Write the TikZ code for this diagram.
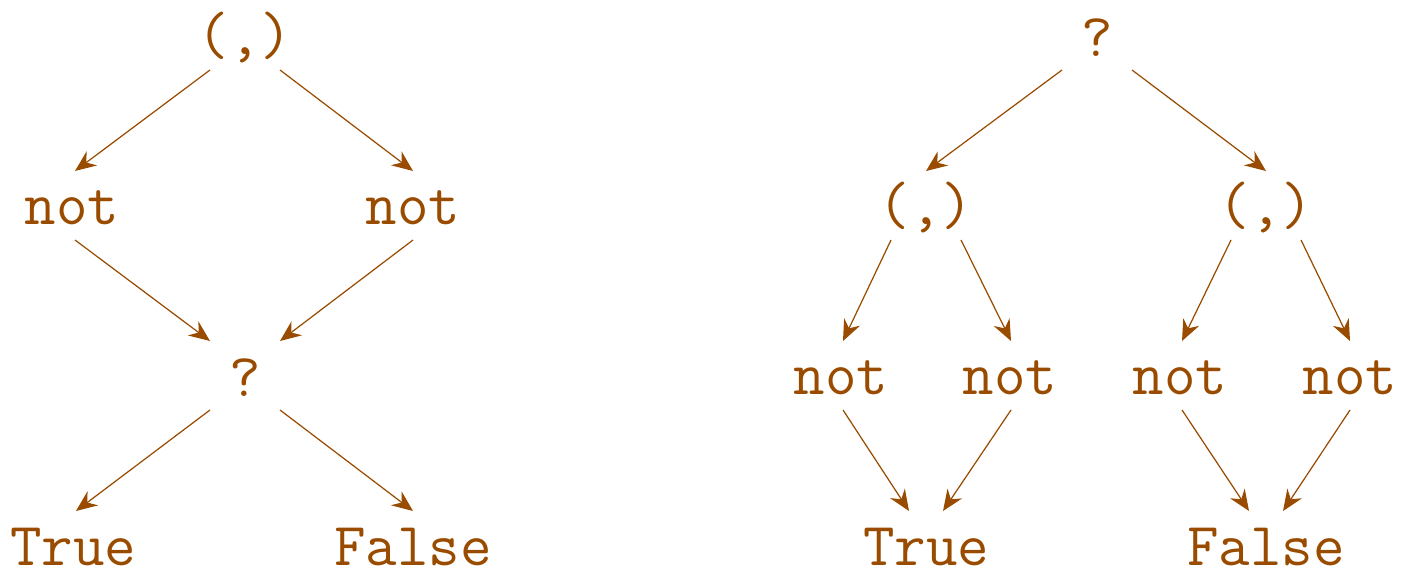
\documentclass[tikz,border=0pt]{standalone}
\usetikzlibrary{arrows.meta}
\definecolor{treebrown}{rgb}{0.6,0.3,0}
\begin{document}
\begin{tikzpicture}[
    term/.style={text=treebrown, font=\fontsize{17.4}{20}\selectfont\ttfamily},
    arrow/.style={->, treebrown, line width=0.35pt, >={Stealth[length=6pt, width=5pt, inset=2pt]}}
]
\useasboundingbox (0,0) rectangle (14.01,-5.69);
% Left tree
\node[term] (pair) at (2.45,-0.38) {(,)};
\node[term] (notA) at (0.72,-2.08) {not};
\node[term] (notB) at (4.13,-2.08) {not};
\node[term] (cond) at (2.45,-3.78) {?};
\node[term] (trueL) at (0.73,-5.47) {True};
\node[term] (falseL) at (4.13,-5.47) {False};

% Right tree
\node[term] (condR) at (10.97,-0.38) {?};
\node[term] (pairA) at (9.26,-2.08) {(,)};
\node[term] (pairB) at (12.66,-2.08) {(,)};
\node[term] (notC) at (8.41,-3.78) {not};
\node[term] (notD) at (10.10,-3.78) {not};
\node[term] (notE) at (11.80,-3.78) {not};
\node[term] (notF) at (13.50,-3.78) {not};
\node[term] (trueR) at (9.26,-5.47) {True};
\node[term] (falseR) at (12.66,-5.47) {False};

% Arrows (left)
\draw[arrow] ([shift={(-0.35,-0.32)}]pair.center) -- ([shift={(0.03,0.37)}]notA.center);
\draw[arrow] ([shift={(0.35,-0.32)}]pair.center) -- ([shift={(0,0.37)}]notB.center);
\draw[arrow] ([shift={(0.03,-0.32)}]notA.center) -- ([shift={(-0.35,0.37)}]cond.center);
\draw[arrow] ([shift={(0,-0.32)}]notB.center) -- ([shift={(0.35,0.37)}]cond.center);
\draw[arrow] ([shift={(-0.35,-0.32)}]cond.center) -- ([shift={(0.03,0.36)}]trueL.center);
\draw[arrow] ([shift={(0.35,-0.32)}]cond.center) -- ([shift={(0,0.36)}]falseL.center);

% Arrows (right)
\draw[arrow] ([shift={(-0.35,-0.32)}]condR.center) -- ([shift={(0,0.37)}]pairA.center);
\draw[arrow] ([shift={(0.35,-0.32)}]condR.center) -- ([shift={(0,0.37)}]pairB.center);
\draw[arrow] ([shift={(-0.35,-0.32)}]pairA.center) -- ([shift={(0.02,0.37)}]notC.center);
\draw[arrow] ([shift={(0.35,-0.32)}]pairA.center) -- ([shift={(0.01,0.37)}]notD.center);
\draw[arrow] ([shift={(-0.35,-0.32)}]pairB.center) -- ([shift={(0.02,0.37)}]notE.center);
\draw[arrow] ([shift={(0.35,-0.32)}]pairB.center) -- ([shift={(0,0.37)}]notF.center);
\draw[arrow] ([shift={(0.02,-0.32)}]notC.center) -- ([shift={(-0.17,0.36)}]trueR.center);
\draw[arrow] ([shift={(0.01,-0.32)}]notD.center) -- ([shift={(0.17,0.36)}]trueR.center);
\draw[arrow] ([shift={(0.02,-0.32)}]notE.center) -- ([shift={(-0.17,0.36)}]falseR.center);
\draw[arrow] ([shift={(0,-0.32)}]notF.center) -- ([shift={(0.17,0.36)}]falseR.center);
\end{tikzpicture}
\end{document}
